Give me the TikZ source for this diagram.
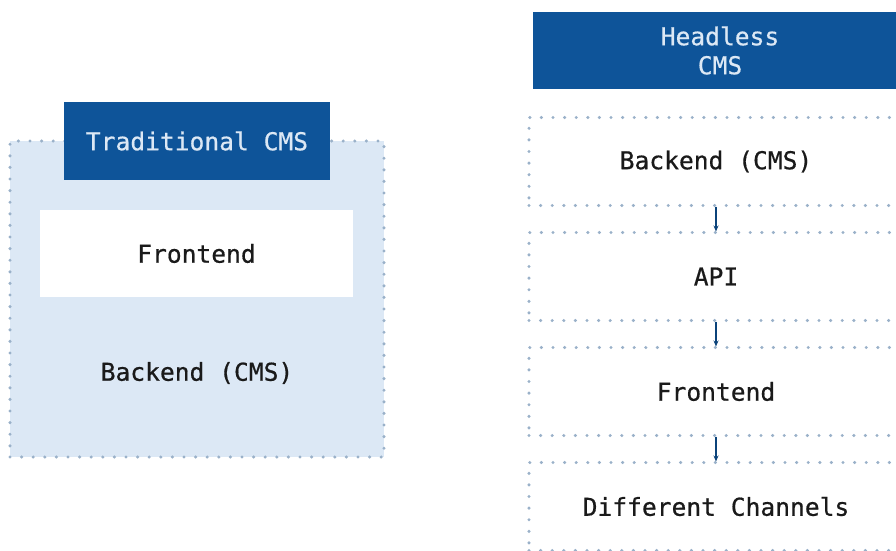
\documentclass[tikz,border=0pt]{standalone}
\usepackage{fontspec}
\setmonofont[FakeBold=0.6]{DejaVu Sans Mono}
\usetikzlibrary{positioning,arrows.meta}
\definecolor{cmsblue}{HTML}{0E5499}
\definecolor{cmspale}{HTML}{DCE8F5}
\definecolor{cmsdots}{HTML}{9AB1C9}
\definecolor{cmsink}{HTML}{1A1A1A}
\begin{document}
\begin{tikzpicture}[
   x=1pt,y=-1pt,
   font=\ttfamily\fontsize{24.6}{29}\selectfont,
   dots/.style={draw=cmsdots,line width=3.4pt,line cap=round,dash pattern=on 0pt off 11.6pt},
   head/.style={fill=cmsblue,text=cmspale,align=center,inner sep=0pt},
   layer/.style={dots,minimum width=374pt,minimum height=88pt,inner sep=0pt,outer sep=0pt,text=cmsink},
   to/.style={-{Stealth[length=6pt,width=5pt]},draw=cmsblue!80!black,line width=1.1pt,shorten >=1pt,shorten <=1pt},
   node distance=27pt]
\useasboundingbox (0,0) rectangle (896,550);
% traditional
\node[dots,fill=cmspale,minimum width=374pt,minimum height=316pt,inner sep=0pt] (trad) at (197,299) {};
\node[head,minimum width=266pt,minimum height=78pt] (tradhead) at (197,141) {Traditional CMS};
\node[fill=white,minimum width=313pt,minimum height=87pt,inner sep=0pt,text=cmsink] (tradfront) at (196.5,253.5) {Frontend};
\node[text=cmsink] (tradback) at (197,373) {Backend (CMS)};
% headless
\node[head,minimum width=374pt,minimum height=77pt] (hlhead) at (720,50.5) {Headless\\CMS};
\node[layer] (hlback) at (716,161.5) {Backend (CMS)};
\node[layer,below=of hlback] (hlapi) {API};
\node[layer,below=of hlapi] (hlfront) {Frontend};
\node[layer,below=of hlfront] (hlchan) {Different Channels};
\draw[to] (hlback) -- (hlapi);
\draw[to] (hlapi) -- (hlfront);
\draw[to] (hlfront) -- (hlchan);
\end{tikzpicture}
\end{document}
